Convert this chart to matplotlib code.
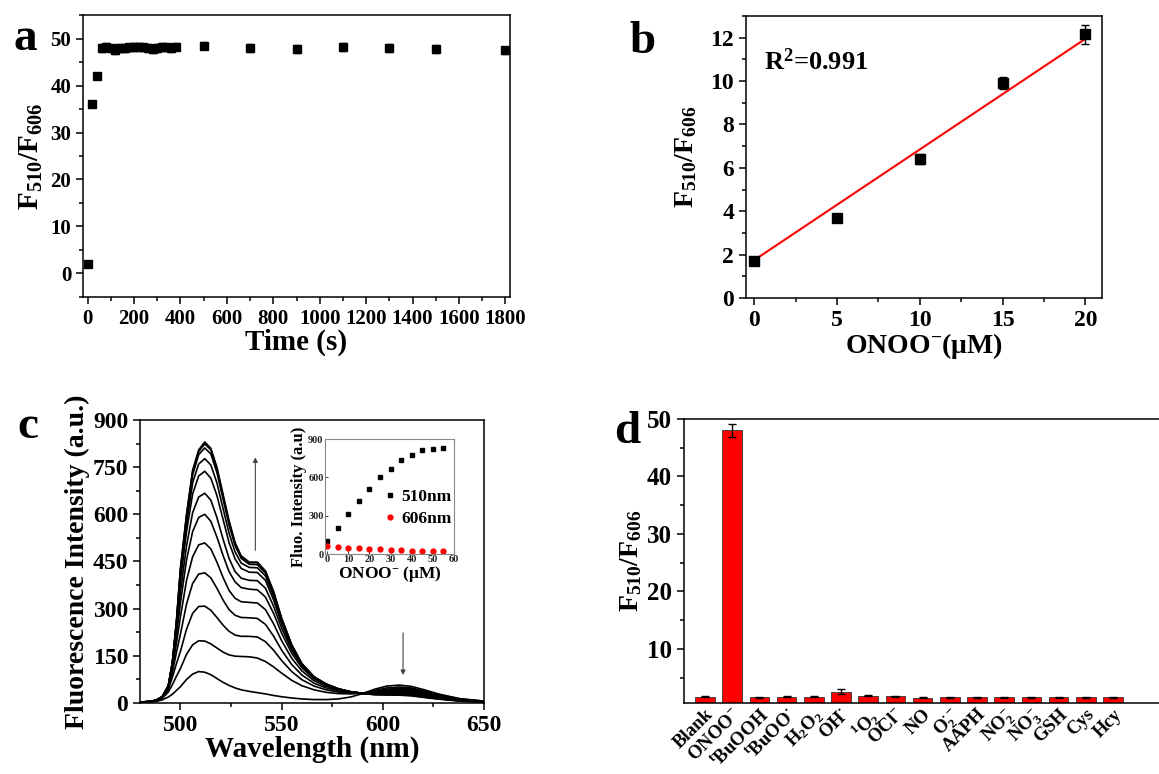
import numpy as np
import matplotlib
matplotlib.use("Agg")
import matplotlib.pyplot as plt
from matplotlib.ticker import MultipleLocator, FixedLocator

plt.rcParams['font.family'] = ['Liberation Serif', 'DejaVu Serif']
plt.rcParams['font.weight'] = 'bold'
plt.rcParams['axes.labelweight'] = 'bold'
plt.rcParams['mathtext.fontset'] = 'custom'
plt.rcParams['mathtext.rm'] = 'Liberation Serif:bold'
plt.rcParams['mathtext.it'] = 'Liberation Serif:bold:italic'
plt.rcParams['mathtext.bf'] = 'Liberation Serif:bold'
plt.rcParams['axes.linewidth'] = 1.1

# ---- panel a: ratio vs time
time_s = [0, 20, 40, 60, 80, 100, 120, 140, 160, 180, 200, 220, 240, 260, 280, 300,
          320, 340, 360, 380, 500, 700, 900, 1100, 1300, 1500, 1800]
ratio_a = [2.0, 36.0, 42.0, 48.0, 48.2, 47.9, 47.6, 48.0, 47.9, 48.1, 48.2, 48.3, 48.1,
           48.0, 47.8, 48.0, 48.2, 48.1, 48.0, 48.3, 48.5, 48.0, 47.8, 48.2, 48.0, 47.8, 47.5]
err_a = [0.3, 0.3, 0.6, 0.8, 0.9, 0.8, 0.9, 0.8, 0.8, 0.7, 0.8, 0.8, 0.7,
         0.8, 0.9, 0.8, 0.9, 0.8, 0.8, 0.8, 0.8, 0.8, 0.8, 0.8, 0.8, 0.8, 0.8]

# ---- panel b: linear range
conc_b = [0, 5, 10, 15, 20]
ratio_b = [1.7, 3.7, 6.4, 9.9, 12.15]
err_b = [0.12, 0.15, 0.22, 0.28, 0.45]
fit_slope = 0.51
fit_intercept = 1.75

# ---- panel c: spectra (read at these wavelengths)
wl = [480, 485, 488, 491, 494, 496, 498, 500, 503, 506, 509, 512, 515, 518, 521, 524, 527, 530,
      534, 538, 542, 546, 550, 555, 560, 566, 572, 578, 584, 590, 596, 602, 608, 614,
      620, 628, 638, 650]
spec_0 = [1, 3, 5, 10, 19, 28, 40, 52, 75, 92, 100, 98, 90, 78, 66, 56, 48, 42, 37, 33, 29, 24,
          20, 16, 13, 11, 11, 13, 19, 30, 44, 54, 57, 53, 43, 28, 14, 6]
spec_5 = [2, 4, 7, 15, 35, 58, 85, 110, 155, 185, 198, 197, 188, 175, 162, 153, 149, 148, 147,
          143, 132, 115, 95, 72, 55, 42, 34, 30, 29, 31, 40, 48, 51, 48, 39, 26, 13, 6]
spec_10 = [2, 4, 8, 17, 43, 82, 125, 165, 235, 285, 307, 308, 295, 272, 248, 228, 216, 212, 212,
           210, 195, 168, 135, 100, 74, 54, 42, 35, 32, 31, 37, 44, 47, 45, 36, 24, 12, 5]
spec_15 = [2, 5, 8, 18, 48, 98, 160, 220, 315, 380, 410, 414, 398, 365, 328, 297, 279, 272, 271,
           269, 250, 213, 168, 122, 89, 63, 48, 39, 34, 31, 35, 41, 44, 42, 34, 23, 11, 5]
spec_20 = [2, 5, 9, 19, 51, 110, 190, 275, 390, 465, 503, 509, 490, 448, 400, 358, 333, 322, 320,
           318, 297, 252, 198, 142, 102, 71, 53, 42, 35, 31, 33, 38, 41, 39, 32, 21, 10, 4]
spec_25 = [2, 5, 9, 19, 52, 118, 215, 320, 455, 545, 590, 600, 578, 528, 470, 418, 385, 367, 362,
           360, 337, 285, 222, 158, 112, 77, 57, 44, 36, 31, 31, 35, 38, 36, 30, 20, 10, 4]
spec_30 = [3, 5, 9, 20, 53, 122, 232, 355, 500, 605, 655, 667, 645, 590, 522, 460, 418, 397, 390,
           389, 365, 308, 238, 168, 118, 80, 59, 45, 36, 31, 30, 32, 34, 33, 27, 18, 9, 4]
spec_35 = [3, 5, 9, 20, 54, 126, 245, 390, 545, 665, 722, 737, 715, 660, 585, 510, 458, 428, 416,
           415, 390, 328, 252, 175, 121, 82, 60, 45, 36, 31, 29, 30, 31, 30, 25, 17, 8, 4]
spec_40 = [3, 5, 9, 20, 55, 128, 252, 408, 570, 700, 760, 777, 757, 700, 620, 540, 480, 445, 431,
           430, 404, 340, 260, 180, 123, 83, 60, 45, 36, 31, 28, 28, 29, 28, 23, 15, 8, 3]
spec_45 = [3, 5, 9, 20, 55, 129, 257, 420, 590, 725, 790, 811, 792, 733, 650, 566, 500, 460, 441,
           440, 413, 348, 265, 183, 124, 83, 60, 45, 35, 30, 27, 27, 27, 26, 21, 14, 7, 3]
spec_50 = [3, 5, 9, 20, 55, 130, 259, 426, 597, 735, 800, 824, 805, 745, 660, 575, 506, 465, 446,
           446, 418, 352, 268, 184, 125, 83, 60, 45, 35, 30, 27, 26, 26, 24, 19, 13, 7, 3]
spec_55 = [3, 5, 9, 20, 55, 130, 260, 430, 600, 740, 805, 830, 810, 750, 665, 580, 510, 468, 448,
           448, 420, 355, 270, 185, 125, 83, 60, 45, 35, 30, 27, 26, 25, 23, 18, 12, 6, 3]
spectra = [spec_0, spec_5, spec_10, spec_15, spec_20, spec_25, spec_30, spec_35,
           spec_40, spec_45, spec_50, spec_55]

# ---- panel c inset: intensity vs ONOO-
conc_in = [0, 5, 10, 15, 20, 25, 30, 35, 40, 45, 50, 55]
f510 = [100, 200, 310, 415, 510, 600, 668, 738, 778, 812, 825, 830]
f606 = [60, 55, 50, 46, 42, 38, 33, 30, 27, 24, 22, 20]

# ---- panel d: selectivity
species = ['Blank', 'ONOO$^{-}$', '$^{\\mathrm{t}}$BuOOH', '$^{\\mathrm{t}}$BuOO$^{\\bullet}$',
           'H$_2$O$_2$', 'OH$^{\\bullet}$', '$^1$O$_2$', 'OCl$^{-}$', 'NO', 'O$_2^{\\bullet-}$',
           'AAPH', 'NO$_2^{-}$', 'NO$_3^{-}$', 'GSH', 'Cys', 'Hcy']
ratio_d = [1.7, 48.0, 1.6, 1.7, 1.7, 2.6, 1.9, 1.8, 1.5, 1.6, 1.6, 1.6, 1.6, 1.6, 1.6, 1.6]
err_d = [0.08, 1.2, 0.1, 0.08, 0.08, 0.5, 0.1, 0.08, 0.08, 0.08, 0.08, 0.08, 0.08, 0.08, 0.08, 0.08]

ylab = 'F$_{510}$/F$_{606}$'

fig = plt.figure(figsize=(11.59, 7.74), dpi=100)


def style(ax, size):
    ax.tick_params(which='both', direction='out', top=False, right=False, labelsize=size, width=1.1)
    ax.tick_params(which='major', length=5)
    ax.tick_params(which='minor', length=3)


# a
ax = fig.add_axes([0.0716, 0.6163, 0.3685, 0.3643])
ax.errorbar(time_s, ratio_a, yerr=err_a, fmt='s', color='k', ms=5.5, capsize=2, elinewidth=1, capthick=1)
ax.set_xlim(-20, 1820)
ax.set_ylim(-5, 55)
ax.xaxis.set_major_locator(MultipleLocator(200))
ax.xaxis.set_minor_locator(MultipleLocator(100))
ax.yaxis.set_major_locator(MultipleLocator(10))
ax.yaxis.set_minor_locator(MultipleLocator(5))
style(ax, 15)
ax.set_xlabel('Time (s)', fontsize=21, labelpad=0)
ax.set_ylabel(ylab, fontsize=21, labelpad=4)

# b
ax = fig.add_axes([0.6437, 0.615, 0.3071, 0.3643])
ax.errorbar(conc_b, ratio_b, yerr=err_b, fmt='s', color='k', ms=7, capsize=3, elinewidth=1, capthick=1)
xf = np.array([conc_b[0], conc_b[-1]])
ax.plot(xf, fit_intercept + fit_slope * xf, color='red', lw=1.5, zorder=1)
ax.set_xlim(-0.5, 21)
ax.set_ylim(0, 13)
ax.xaxis.set_major_locator(MultipleLocator(5))
ax.xaxis.set_minor_locator(MultipleLocator(2.5))
ax.yaxis.set_major_locator(MultipleLocator(2))
ax.yaxis.set_minor_locator(MultipleLocator(1))
style(ax, 17)
ax.text(0.6, 10.5, 'R$^2$=0.991', fontsize=19)
ax.set_xlabel('ONOO$^{\\mathbf{-}}$(μM)', fontsize=20, labelpad=0)
ax.set_ylabel(ylab, fontsize=20, labelpad=8)

# c
ax = fig.add_axes([0.1208, 0.0917, 0.2968, 0.3657])
for s in spectra:
    ax.plot(wl, s, color='k', lw=1.2)
ax.set_xlim(480, 650)
ax.set_ylim(0, 900)
ax.xaxis.set_major_locator(MultipleLocator(50))
ax.xaxis.set_minor_locator(MultipleLocator(25))
ax.yaxis.set_major_locator(MultipleLocator(150))
ax.yaxis.set_minor_locator(MultipleLocator(75))
style(ax, 17)
ax.annotate('', xy=(537, 790), xytext=(537, 477),
            arrowprops=dict(arrowstyle='-|>', color='#444', lw=0.8, mutation_scale=7))
ax.annotate('', xy=(610, 80), xytext=(610, 232),
            arrowprops=dict(arrowstyle='-|>', color='#444', lw=0.8, mutation_scale=7))
ax.set_xlabel('Wavelength (nm)', fontsize=21, labelpad=0)
ax.set_ylabel('Fluorescence Intensity (a.u.)', fontsize=20, labelpad=2)

# c inset
ax = fig.add_axes([0.2804, 0.2842, 0.1113, 0.1486])
ax.plot(conc_in, f510, 's', color='k', ms=3.5, label='510nm')
ax.plot(conc_in, f606, 'o', color='red', ms=3.5, label='606nm')
ax.set_xlim(-1, 60)
ax.set_ylim(0, 900)
ax.xaxis.set_major_locator(MultipleLocator(10))
ax.yaxis.set_major_locator(MultipleLocator(300))
for sp in ax.spines.values():
    sp.set_color('#888')
    sp.set_linewidth(0.8)
ax.tick_params(direction='in', length=2, width=0.6, labelsize=7.5, pad=1, colors='#222')
ax.set_xlabel('ONOO$^{-}$ (μM)', fontsize=12.5, labelpad=0)
ax.set_ylabel('Fluo. Intensity (a.u)', fontsize=12, labelpad=1)
ax.legend(loc='center left', bbox_to_anchor=(0.4, 0.4), frameon=False, fontsize=12.5,
          handlelength=0.6, handletextpad=0.3, labelspacing=0.3, borderpad=0)

# d
ax = fig.add_axes([0.5902, 0.0917, 0.4452, 0.367])
xpos = np.arange(len(species))
ax.bar(xpos, ratio_d, width=0.72, color='red', edgecolor='#333', lw=0.6,
       yerr=err_d, capsize=3, error_kw=dict(elinewidth=1, capthick=1, ecolor='k'))
ax.set_xlim(-0.77, 18.2)
ax.set_ylim(0.6, 50)
ax.yaxis.set_major_locator(FixedLocator([10, 20, 30, 40, 50]))
ax.yaxis.set_minor_locator(FixedLocator([5, 15, 25, 35, 45]))
ax.set_xticks(xpos)
ax.set_xticklabels(species, rotation=45, ha='right', va='top', rotation_mode='anchor', fontsize=13.5)
style(ax, 18)
ax.tick_params(axis='x', length=0, labelsize=13.5, pad=2)
ax.spines['right'].set_visible(False)
ax.set_ylabel(ylab, fontsize=20, labelpad=2)

# panel letters
for x, y, t in [(0.012, 0.935, 'a'), (0.543, 0.931, 'b'), (0.015, 0.434, 'c'), (0.530, 0.428, 'd')]:
    fig.text(x, y, t, fontsize=34, fontweight='bold')

fig.savefig('out.png', dpi=100)
